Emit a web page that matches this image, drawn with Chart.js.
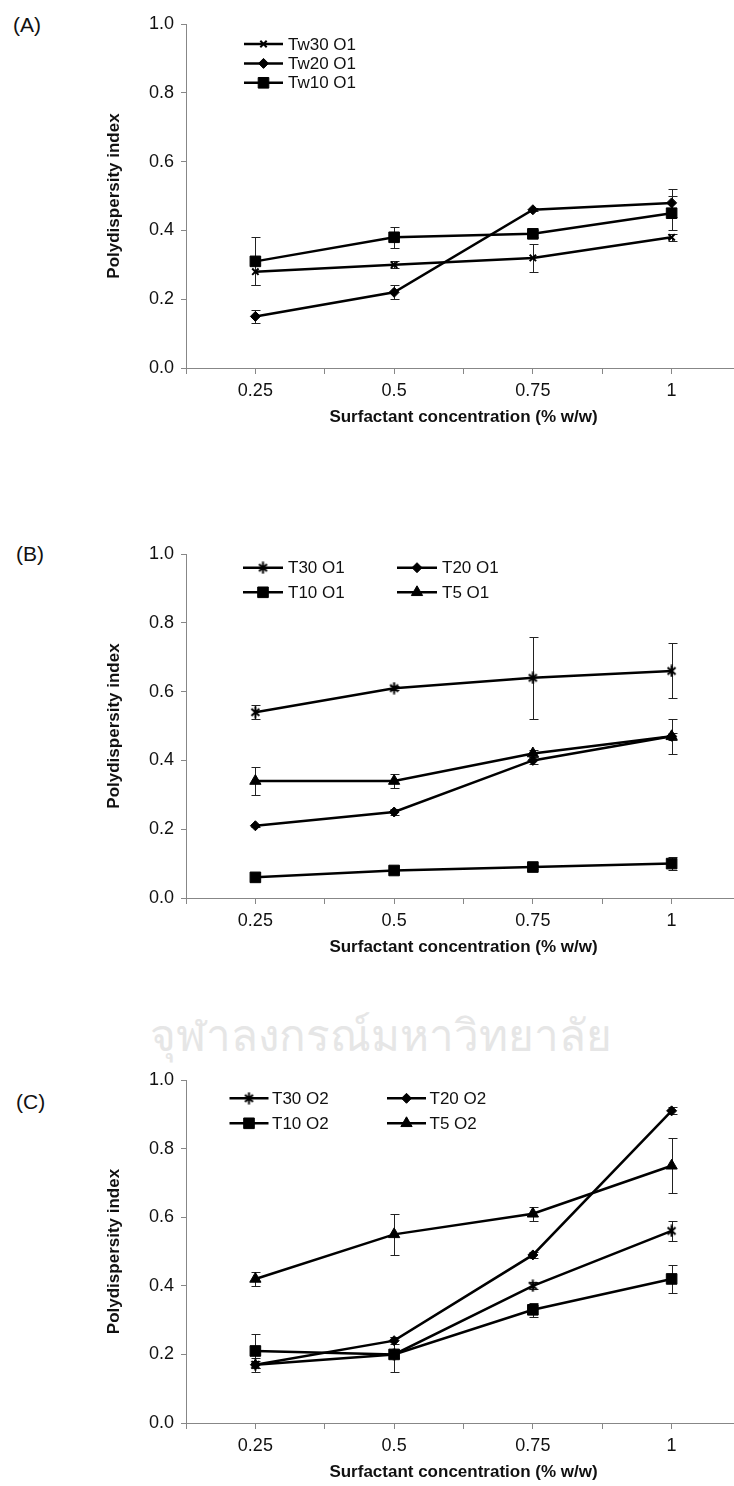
<!DOCTYPE html>
<html>
<head>
<meta charset="utf-8">
<script src="https://cdn.jsdelivr.net/npm/chart.js@4.4.1/dist/chart.umd.min.js"></script>
<style>
  html, body { margin: 0; padding: 0; background: #fff; overflow: hidden; }
  body { width: 734px; height: 1486px; position: relative; font-family: "Liberation Sans", Arial, sans-serif; }
  canvas { position: absolute; left: 0; }
  .panel { position: absolute; font-size: 21px; line-height: 21px; color: #111; }
  .wm { position: absolute; left: 150px; top: 1010px; font-size: 44px; line-height: 52px; color: #e6e6e6; white-space: nowrap; }
</style>
</head>
<body>
<div class="wm">จุฬาลงกรณ์มหาวิทยาลัย</div>
<div class="panel" style="left:13px;top:14px">(A)</div>
<div class="panel" style="left:16px;top:543px">(B)</div>
<div class="panel" style="left:16px;top:1091px">(C)</div>
<canvas id="chartA" width="760" height="438" style="top:0px"></canvas>
<canvas id="chartB" width="760" height="438" style="top:530px"></canvas>
<canvas id="chartC" width="760" height="437" style="top:1056px"></canvas>
<script>
// surfactant concentration (% w/w)
const concentrations = [0.25, 0.5, 0.75, 1];
const xTickLabels = ["0.25", "0.5", "0.75", "1"];

// (A) Tween series with oil O1
const tw30o1 = [0.28, 0.30, 0.32, 0.38];
const tw30o1Err = [0.04, 0.01, 0.04, 0.01];
const tw20o1 = [0.15, 0.22, 0.46, 0.48];
const tw20o1Err = [0.02, 0.02, 0.005, 0.04];
const tw10o1 = [0.31, 0.38, 0.39, 0.45];
const tw10o1Err = [0.07, 0.03, 0.01, 0.05];

// (B) O1
const t30o1 = [0.54, 0.61, 0.64, 0.66];
const t30o1Err = [0.02, 0.005, 0.12, 0.08];
const t20o1 = [0.21, 0.25, 0.40, 0.47];
const t20o1Err = [0.005, 0.01, 0.01, 0.01];
const t10o1 = [0.06, 0.08, 0.09, 0.10];
const t10o1Err = [0.005, 0.005, 0.005, 0.02];
const t5o1 = [0.34, 0.34, 0.42, 0.47];
const t5o1Err = [0.04, 0.02, 0.01, 0.05];

// (C) O2
const t30o2 = [0.17, 0.20, 0.40, 0.56];
const t30o2Err = [0.02, 0.01, 0.01, 0.03];
const t20o2 = [0.17, 0.24, 0.49, 0.91];
const t20o2Err = [0.01, 0.01, 0.01, 0.01];
const t10o2 = [0.21, 0.20, 0.33, 0.42];
const t10o2Err = [0.05, 0.05, 0.02, 0.04];
const t5o2 = [0.42, 0.55, 0.61, 0.75];
const t5o2Err = [0.02, 0.06, 0.02, 0.08];

const AXIS = "#878787";
const INK = "#111";
const FONT = '"Liberation Sans", Arial, sans-serif';

// excel style star: X plus a vertical bar
function starMarker() {
  const c = document.createElement("canvas");
  c.width = 13; c.height = 13;
  const g = c.getContext("2d");
  g.strokeStyle = "#000";
  g.lineWidth = 2;
  g.beginPath();
  g.moveTo(2.5, 3); g.lineTo(10.5, 10);
  g.moveTo(10.5, 3); g.lineTo(2.5, 10);
  g.moveTo(6.5, 0.5); g.lineTo(6.5, 12.5);
  g.stroke();
  return c;
}
const star = starMarker();

function series(label, vals, errs, style, radius) {
  return {
    label: label,
    data: concentrations.map((c, i) => ({ x: c, y: vals[i] })),
    errors: errs,
    borderColor: "#000",
    backgroundColor: "#000",
    borderWidth: 2.5,
    pointStyle: style,
    pointRadius: radius,
    pointBorderWidth: style === "crossRot" ? 2 : 1,
    pointBorderColor: "#000",
    pointBackgroundColor: "#000",
    tension: 0,
  };
}

const errorBars = {
  id: "errorBars",
  beforeDatasetsDraw(chart) {
    const { ctx, scales: { x, y } } = chart;
    ctx.save();
    ctx.strokeStyle = "#222";
    ctx.lineWidth = 1;
    chart.data.datasets.forEach((ds) => {
      ds.data.forEach((p, i) => {
        const e = ds.errors[i];
        const px = Math.round(x.getPixelForValue(p.x)) + 0.5;
        const top = Math.round(y.getPixelForValue(p.y + e)) + 0.5;
        const bot = Math.round(y.getPixelForValue(p.y - e)) + 0.5;
        ctx.beginPath();
        ctx.moveTo(px, top); ctx.lineTo(px, bot);
        ctx.moveTo(px - 4, top); ctx.lineTo(px + 5, top);
        ctx.moveTo(px - 4, bot); ctx.lineTo(px + 5, bot);
        ctx.stroke();
      });
    });
    ctx.restore();
  },
};

const boxLegend = {
  id: "boxLegend",
  afterDraw(chart, args, opts) {
    const ctx = chart.ctx;
    ctx.save();
    ctx.font = "17px " + FONT;
    ctx.textBaseline = "middle";
    chart.data.datasets.forEach((ds, i) => {
      const col = i % opts.cols;
      const row = Math.floor(i / opts.cols);
      const x0 = opts.x + col * opts.colW;
      const yy = opts.y + row * opts.rowH;
      ctx.strokeStyle = "#000";
      ctx.lineWidth = 2.5;
      ctx.beginPath();
      ctx.moveTo(x0, yy); ctx.lineTo(x0 + opts.lineLen, yy);
      ctx.stroke();
      ctx.fillStyle = "#000";
      ctx.lineWidth = ds.pointBorderWidth;
      Chart.helpers.drawPoint(ctx, { pointStyle: ds.pointStyle, radius: ds.pointRadius, borderWidth: ds.pointBorderWidth, rotation: 0 }, x0 + opts.lineLen / 2, yy);
      ctx.fillStyle = INK;
      ctx.fillText(ds.label, x0 + opts.lineLen + opts.gap, yy + 1);
    });
    ctx.restore();
  },
};

function makeChart(id, datasets, legendOpts) {
  return new Chart(document.getElementById(id), {
    type: "line",
    data: { datasets: datasets },
    options: {
      responsive: false,
      animation: false,
      layout: { padding: { top: 24, right: 19, left: 0, bottom: 0 } },
      plugins: {
        legend: { display: false },
        tooltip: { enabled: false },
        boxLegend: legendOpts,
      },
      scales: {
        x: {
          type: "linear",
          min: 0.125,
          max: 1.125,
          afterFit: (s) => { s.height = 70; },
          border: { color: AXIS, width: 1 },
          grid: { drawOnChartArea: false, drawTicks: true, tickLength: 6, color: AXIS },
          ticks: {
            stepSize: 0.125,
            autoSkip: false,
            maxRotation: 0,
            padding: 6,
            color: INK,
            font: { family: FONT, size: 18 },
            callback: (v) => {
              const i = concentrations.indexOf(v);
              return i >= 0 ? xTickLabels[i] : "";
            },
          },
          title: {
            display: true,
            text: "Surfactant concentration (% w/w)",
            color: INK,
            font: { family: FONT, size: 17, weight: "bold" },
            padding: { top: 0, bottom: 10 },
          },
        },
        y: {
          min: 0,
          max: 1,
          afterFit: (s) => { s.width = 186; },
          border: { color: AXIS, width: 1 },
          grid: { drawOnChartArea: false, drawTicks: true, tickLength: 5, color: AXIS },
          ticks: {
            stepSize: 0.2,
            padding: 7,
            color: INK,
            font: { family: FONT, size: 18 },
            callback: (v) => v.toFixed(1),
          },
          title: {
            display: true,
            text: "Polydispersity index",
            color: INK,
            font: { family: FONT, size: 17, weight: "bold" },
            padding: { top: 104, bottom: 0 },
          },
        },
      },
    },
    plugins: [errorBars, boxLegend],
  });
}

makeChart("chartA", [
  series("Tw30 O1", tw30o1, tw30o1Err, "crossRot", 4.5),
  series("Tw20 O1", tw20o1, tw20o1Err, "rectRot", 5),
  series("Tw10 O1", tw10o1, tw10o1Err, "rect", 7.5),
], { x: 244, y: 44, lineLen: 39, gap: 5, cols: 1, colW: 0, rowH: 19.4 });

makeChart("chartB", [
  series("T30 O1", t30o1, t30o1Err, star, 6),
  series("T20 O1", t20o1, t20o1Err, "rectRot", 5),
  series("T10 O1", t10o1, t10o1Err, "rect", 7.5),
  series("T5 O1", t5o1, t5o1Err, "triangle", 6.5),
], { x: 243, y: 37.7, lineLen: 40, gap: 5, cols: 2, colW: 154, rowH: 24.6 });

makeChart("chartC", [
  series("T30 O2", t30o2, t30o2Err, star, 6),
  series("T20 O2", t20o2, t20o2Err, "rectRot", 5),
  series("T10 O2", t10o2, t10o2Err, "rect", 7.5),
  series("T5 O2", t5o2, t5o2Err, "triangle", 6.5),
], { x: 229.5, y: 42.3, lineLen: 39, gap: 3.5, cols: 2, colW: 157.5, rowH: 25 });
</script>
</body>
</html>
